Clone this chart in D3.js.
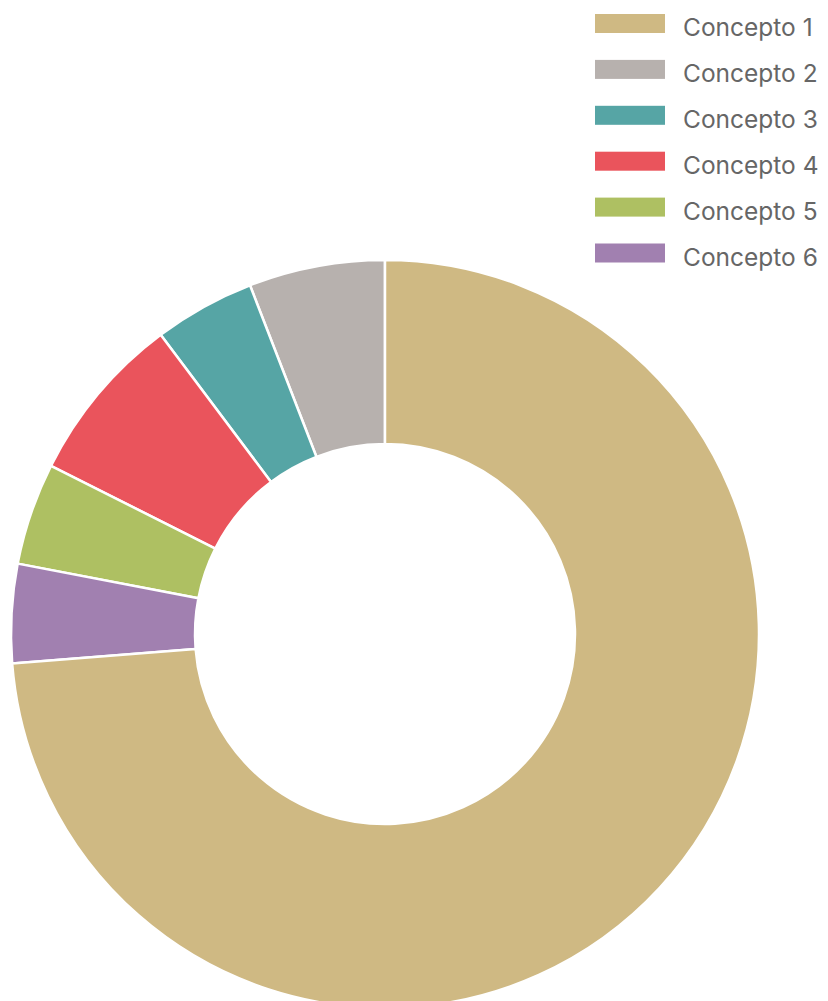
<!DOCTYPE html>
<html lang="es">
  <head>
    <meta charset="UTF-8" />
    <title>Conceptos</title>
    <style>
      body { margin: 0; background: #fff; }
      text { font-family: Inter, "Open Sans", sans-serif; }
    </style>
  </head>
  <body>
    <svg id="svg" width="828" height="1001"></svg>

    <script src="https://cdn.jsdelivr.net/npm/d3@7"></script>
    <script>
      const WIDTH = 828;
      const HEIGHT = 1001;

      const labels = ["Concepto 1", "Concepto 2", "Concepto 3", "Concepto 4", "Concepto 5", "Concepto 6"];
      const values = [73.75, 5.88, 4.36, 7.34, 4.41, 4.27];
      const colors = ["#cfb983", "#b7b1ae", "#56a5a5", "#ea545c", "#aec062", "#a180b0"];

      const CX = 385;
      const CY = 634;
      const OUTER = 374;
      const INNER = 190;

      const data = labels.map((l, i) => ({ label: l, value: values[i], color: colors[i] }));

      // Concepto 1 runs clockwise from the top, the rest are stacked counter-clockwise
      const order = data.slice(1).concat([data[0]]);

      const pie = d3
        .pie()
        .sort(null)
        .value((d) => d.value)
        .startAngle(0)
        .endAngle(-2 * Math.PI);

      const arc = d3.arc().innerRadius(INNER).outerRadius(OUTER);

      const svg = d3.select("#svg");

      svg
        .append("g")
        .attr("transform", `translate(${CX}, ${CY})`)
        .selectAll("path")
        .data(pie(order))
        .enter()
        .append("path")
        .attr("d", arc)
        .attr("fill", (d) => d.data.color)
        .attr("stroke", "#fff")
        .attr("stroke-width", 2.5)
        .attr("stroke-linejoin", "round");

      // legend
      const legend = svg
        .append("g")
        .selectAll("g")
        .data(data)
        .enter()
        .append("g")
        .attr("transform", (d, i) => `translate(595, ${23.5 + i * 45.9})`);

      legend
        .append("rect")
        .attr("x", 0)
        .attr("y", -9.5)
        .attr("width", 70)
        .attr("height", 19)
        .attr("fill", (d) => d.color);

      legend
        .append("text")
        .attr("x", 88)
        .attr("y", 12.5)
        .attr("font-size", 24.5)
        .attr("fill", "#666")
        .text((d) => d.label);
    </script>
  </body>
</html>
